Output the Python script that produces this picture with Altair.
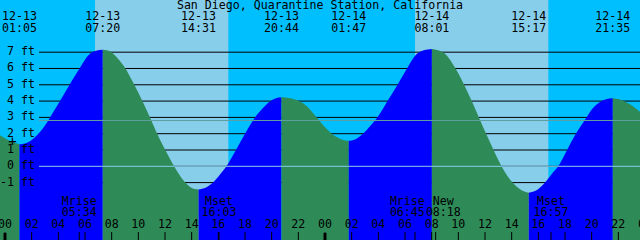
import altair as alt
import pandas as pd

TITLE = "San Diego, Quarantine Station, California"
FONT = "DejaVu Sans Mono"
FS = 11.6

# ---- tide curve (hours after 12-13 00:00, feet) ----
tide_t = [-0.375, 0.375, 1.083,
          1.65, 2.1, 2.625, 3.0, 3.375, 4.125, 4.875, 5.625, 6.375, 6.825, 7.333,
          7.725, 8.025, 8.475, 9.0, 9.6, 10.275, 10.875, 11.44, 12.15, 12.825, 13.5, 13.95, 14.517,
          15.075, 15.6, 16.125, 16.61, 17.325, 18.0, 18.75, 19.35, 19.875, 20.325, 20.733,
          21.375, 22.125, 22.65, 23.14, 23.625, 24.075, 24.49, 24.975, 25.425, 25.783,
          26.25, 26.85, 27.375, 27.975, 28.725, 29.475, 30.15, 30.9, 31.425, 32.017,
          32.475, 33.0, 33.45, 33.825, 34.425, 34.99, 35.55, 36.11, 36.71, 37.31, 38.1, 38.625, 39.283,
          39.9, 40.5, 41.025, 41.5, 42.13, 42.75, 43.575, 44.025, 44.625, 45.075, 45.583,
          46.125, 46.875, 47.625]
tide_h = [1.9, 1.55, 1.35,
          1.45, 1.68, 2.1, 2.5, 3.0, 4.0, 5.05, 6.05, 6.9, 7.08, 7.15,
          7.1, 6.97, 6.6, 6.05, 5.15, 4.05, 3.0, 1.95, 0.8, -0.2, -0.98, -1.3, -1.43,
          -1.3, -1.0, -0.5, 0.0, 1.0, 2.0, 3.0, 3.58, 3.98, 4.17, 4.23,
          4.17, 3.98, 3.68, 3.22, 2.75, 2.33, 2.0, 1.75, 1.6, 1.56,
          1.65, 2.0, 2.45, 3.05, 4.05, 5.05, 6.0, 6.9, 7.12, 7.2,
          7.12, 6.9, 6.45, 5.95, 5.02, 4.03, 2.98, 1.95, 0.88, -0.1, -1.03, -1.4, -1.62,
          -1.45, -1.0, -0.45, 0.0, 0.95, 1.9, 2.95, 3.5, 3.95, 4.12, 4.17,
          4.1, 3.8, 3.34]

# ---- high / low tide events ----
event_t = [1.083, 7.333, 14.517, 20.733, 25.783, 32.017, 39.283, 45.583]
event_date = ["12-13", "12-13", "12-13", "12-13", "12-14", "12-14", "12-14", "12-14"]
event_time = ["01:05", "07:20", "14:31", "20:44", "01:47", "08:01", "15:17", "21:35"]

# ---- daylight ----
sunrise_t = [6.75, 30.75]
sunset_t = [16.75, 40.75]

# ---- moon events ----
moon_t = [5.567, 16.05, 30.75, 32.3, 40.95]
moon_name = ["Mrise", "Mset", "Mrise", "New", "Mset"]
moon_time = ["05:34", "16:03", "06:45", "08:18", "16:57"]

# ---- y grid ----
grid_ft = [7, 6, 5, 4, 3, 2, 1, 0, -1]
grid_lab = ["7 ft", "6 ft", "5 ft", "4 ft", "3 ft", "2 ft", "1 ft", "0 ft", "-1 ft"]
msl_ft = [2.81]
datum_ft = [0]

# ---- x axis ----
hour_t = [0, 2, 4, 6, 8, 10, 12, 14, 16, 18, 20, 22,
          24, 26, 28, 30, 32, 34, 36, 38, 40, 42, 44, 46, 48]
hour_lab = ["00", "02", "04", "06", "08", "10", "12", "14", "16", "18", "20", "22",
            "00", "02", "04", "06", "08", "10", "12", "14", "16", "18", "20", "22", "00"]
midnight_t = [0, 24, 48]

# ---------------- build tables ----------------
X_DOM = [-0.375, 47.625]
Y_DOM = [-4.52, 10.2]
W, H = 640, 240
PX_PER_H = W / (X_DOM[1] - X_DOM[0])

xs = alt.Scale(domain=X_DOM, nice=False, zero=False)
ys = alt.Scale(domain=Y_DOM, nice=False, zero=False)

def X(f):
    return alt.X(f, type="quantitative", scale=xs, axis=None)

def Y(f):
    return alt.Y(f, type="quantitative", scale=ys, axis=None, stack=None)

pts = list(zip(tide_t, tide_h))
segments, cur = [], [pts[0]]
for p in pts[1:]:
    cur.append(p)
    if any(abs(p[0] - e) < 1e-6 for e in event_t):
        segments.append(cur)
        cur = [p]
if len(cur) > 1:
    segments.append(cur)
rows = []
for i, s in enumerate(segments):
    phase = "rise" if s[-1][1] > s[0][1] else "fall"
    for t, h in s:
        rows.append({"t": t, "h": h, "seg": i, "phase": phase})
tide_df = pd.DataFrame(rows)

# label positions for moon events: push overlapping labels apart
lab_w = 36 / PX_PER_H
mpos = list(moon_t)
for i in range(len(mpos) - 1):
    gap = mpos[i + 1] - mpos[i]
    if gap < lab_w:
        d = (lab_w - gap) / 2
        mpos[i] -= d
        mpos[i + 1] += d
moon_df = pd.DataFrame({"t": mpos, "ev": moon_t, "name": moon_name, "time": moon_time})

day_df = pd.DataFrame({"t1": sunrise_t, "t2": sunset_t})
grid_df = pd.DataFrame({"h": grid_ft, "lab": grid_lab})
ev_df = pd.DataFrame({"t": event_t, "date": event_date, "time": event_time})
hour_df = pd.DataFrame({"t": hour_t, "lab": hour_lab})
mid_df = pd.DataFrame({"t": midnight_t})

day = alt.Chart(day_df).mark_rect(color="#87CEEB").encode(
    x=X("t1"), x2="t2", y=alt.value(0), y2=alt.value(H))

grid = alt.Chart(grid_df).mark_rule(color="black", strokeWidth=1).encode(
    x=alt.value(39), x2=alt.value(W), y=Y("h"))

water = alt.Chart(tide_df).mark_area(interpolate="monotone", clip=True).encode(
    x=X("t"), y=Y("h"), y2=alt.value(H),
    color=alt.Color("phase:N", scale=alt.Scale(domain=["rise", "fall"],
                                              range=["#0000FF", "#2E8B57"]), legend=None),
    detail="seg:N")

msl = alt.Chart(pd.DataFrame({"h": msl_ft})).mark_rule(color="#5F9EA0", strokeWidth=1).encode(
    x=alt.value(39), x2=alt.value(W), y=Y("h"))
datum = alt.Chart(pd.DataFrame({"h": datum_ft})).mark_rule(color="#87CEEB", strokeWidth=1).encode(
    x=alt.value(39), x2=alt.value(W), y=Y("h"))

txt = dict(font=FONT, fontSize=FS, color="black", baseline="middle")

ylab = alt.Chart(grid_df).mark_text(align="right", **txt).encode(
    x=alt.value(35), y=Y("h"), text="lab:N")

cross = alt.Chart(pd.DataFrame({"s": ["+"]})).mark_text(align="center", font=FONT, fontSize=14,
                                                      color="black", baseline="middle").encode(
    x=alt.value(12.5), y=alt.value(142), text="s:N")

title = alt.Chart(pd.DataFrame({"s": [TITLE]})).mark_text(align="center", **txt).encode(
    x=alt.value(W / 2), y=alt.value(6), text="s:N")

ev_date = alt.Chart(ev_df).mark_text(align="center", **txt).encode(
    x=X("t"), y=alt.value(17), text="date:N")
ev_time = alt.Chart(ev_df).mark_text(align="center", **txt).encode(
    x=X("t"), y=alt.value(29), text="time:N")

moon_a = alt.Chart(moon_df).mark_text(align="center", **txt).encode(
    x=X("t"), y=alt.value(202), text="name:N")
moon_b = alt.Chart(moon_df).mark_text(align="center", **txt).encode(
    x=X("t"), y=alt.value(213), text="time:N")
moon_tick = alt.Chart(moon_df).mark_rule(color="black", strokeWidth=1).encode(
    x=X("ev"), y=alt.value(232), y2=alt.value(H))

hours = alt.Chart(hour_df).mark_text(align="center", **txt).encode(
    x=X("t"), y=alt.value(225), text="lab:N")
ticks = alt.Chart(hour_df).mark_rule(color="black", strokeWidth=1).encode(
    x=X("t"), y=alt.value(232), y2=alt.value(H))
mticks = alt.Chart(mid_df).mark_rule(color="black", strokeWidth=3).encode(
    x=X("t"), y=alt.value(233), y2=alt.value(H))

chart = alt.layer(
    day, grid, water, msl, datum, ylab, cross, title, ev_date, ev_time,
    moon_a, moon_b, moon_tick, hours, ticks, mticks
).properties(
    width=W, height=H, padding=0, autosize=alt.AutoSizeParams(type="none"),
    background="#00BFFF"
).configure_view(stroke=None)

chart.save("out.html", embed_options={"renderer": "svg", "actions": False})
